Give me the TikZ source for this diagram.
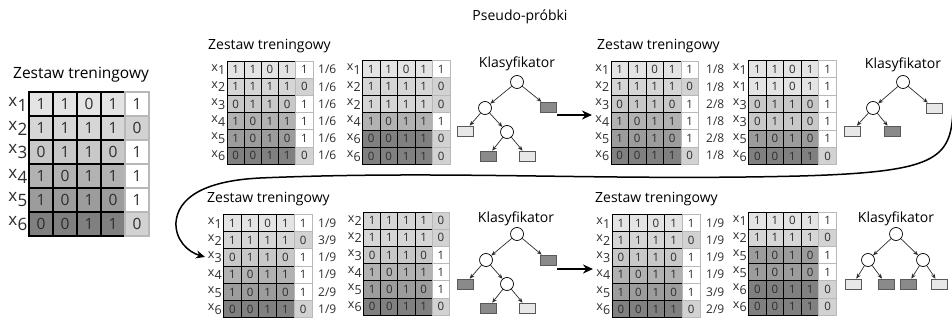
\documentclass[tikz,border=0pt]{standalone}
\usepackage{fontspec}
\setmainfont{Open Sans}
\usetikzlibrary{arrows.meta}

\definecolor{ink}{HTML}{2E2E2E}
\definecolor{shade1}{HTML}{E4E4E4}
\definecolor{shade2}{HTML}{D6D6D6}
\definecolor{shade3}{HTML}{C8C8C8}
\definecolor{shade4}{HTML}{B2B2B2}
\definecolor{shade5}{HTML}{9C9C9C}
\definecolor{shade6}{HTML}{808080}
\definecolor{clszero}{HTML}{D2D2D2}
\definecolor{clsline}{HTML}{B8B8B8}
\definecolor{leafdark}{HTML}{8A8A8A}
\definecolor{leaflight}{HTML}{E8E8E8}

% features and class of each training sample
\expandafter\def\csname feat1\endcsname{1,1,0,1}
\expandafter\def\csname feat2\endcsname{1,1,1,1}
\expandafter\def\csname feat3\endcsname{0,1,1,0}
\expandafter\def\csname feat4\endcsname{1,0,1,1}
\expandafter\def\csname feat5\endcsname{1,0,1,0}
\expandafter\def\csname feat6\endcsname{0,0,1,1}
\expandafter\def\csname cls1\endcsname{1}
\expandafter\def\csname cls2\endcsname{0}
\expandafter\def\csname cls3\endcsname{1}
\expandafter\def\csname cls4\endcsname{1}
\expandafter\def\csname cls5\endcsname{1}
\expandafter\def\csname cls6\endcsname{0}

\newcommand\rowsub[1]{\kern0.3pt\raisebox{-0.55ex}{#1}}

% #1 name, #2 left, #3 top, #4 cell width, #5 cell height, #6 sample ids, #7 size style
\newcommand\datatab[7]{%
  \foreach \id [count=\r] in {#6} {%
    \edef\feats{\csname feat\id\endcsname}%
    \ifnum\csname cls\id\endcsname=1 \def\clsfill{white}\else\def\clsfill{clszero}\fi
    \foreach \v [count=\c] in \feats {%
      \node[fcell, #7, fill=shade\id, minimum width=#4pt, minimum height=#5pt]
        (#1-\r-\c) at ({#2+(\c-0.5)*#4},{#3+(\r-0.5)*#5}) {\v};
    }%
    \node[ccell, #7, fill=\clsfill, minimum width=#4pt, minimum height=#5pt]
      (#1-\r-5) at ({#2+4.5*#4},{#3+(\r-0.5)*#5}) {\csname cls\id\endcsname};
    \node[rowlbl, #7lbl, anchor=east] (#1-x\r) at ({#2-1.5},{#3+(\r-0.5)*#5}) {x\rowsub{\id}};
  }%
}

% #1 name, #2 left, #3 top, #4 row height, #5 weights
\newcommand\weights[5]{%
  \foreach \wt [count=\r] in {#5} {%
    \node[wlbl, anchor=west] (#1-w\r) at (#2,{#3+(\r-0.5)*#4}) {\wt};
  }%
}

\begin{document}
\begin{tikzpicture}[x=1pt,y=-1pt,
  fcell/.style={draw=black, text=ink, inner sep=0pt},
  ccell/.style={draw=clsline, text=ink, inner sep=0pt},
  rowlbl/.style={text=ink, inner sep=0pt, draw=none},
  tabbig/.style={font=\fontsize{15.5}{15.5}\selectfont, line width=1.3pt},
  tabsmall/.style={font=\fontsize{11.5}{11.5}\selectfont, line width=0.9pt},
  tabbiglbl/.style={font=\fontsize{17}{17}\selectfont},
  tabsmalllbl/.style={font=\fontsize{12.5}{12.5}\selectfont},
  wlbl/.style={text=ink, inner sep=0pt, font=\fontsize{12}{12}\selectfont},
  heading/.style={text=black, inner sep=0pt, font=\fontsize{14}{14}\selectfont},
  inner/.style={circle, draw=black, fill=white, line width=0.7pt, minimum size=13pt, inner sep=0pt},
  leafd/.style={rectangle, draw=black!65, fill=leafdark, line width=0.6pt, minimum width=16pt, minimum height=10pt, inner sep=0pt},
  leafl/.style={rectangle, draw=black!65, fill=leaflight, line width=0.6pt, minimum width=16pt, minimum height=10pt, inner sep=0pt},
  branch/.style={-{Stealth[length=5pt,width=4pt]}, line width=0.7pt, draw=ink},
  flow/.style={-{Stealth[length=10pt,width=9pt]}, line width=2.4pt},
  loopback/.style={-{Stealth[length=9pt,width=8pt]}, line width=1.5pt}]

\useasboundingbox (0,0) rectangle (952,320);
\fill[white] (0,0) rectangle (952,320);

\node[heading] (title) at (520,17) {Pseudo-próbki};

% original training set
\node[heading, anchor=base west, font=\fontsize{15.5}{15.5}\selectfont] (h0) at (13,79) {Zestaw treningowy};
\datatab{T0}{29}{92}{24}{24}{1,2,3,4,5,6}{tabbig}

% round 1
\node[heading, anchor=base west] (h1) at (208,50) {Zestaw treningowy};
\datatab{A}{227}{61}{17.2}{17.2}{1,2,3,4,5,6}{tabsmall}
\weights{A}{318}{61}{17.2}{1/6,1/6,1/6,1/6,1/6,1/6}
\datatab{Ap}{362.5}{60.5}{17.5}{17.4}{1,2,2,4,6,6}{tabsmall}

% round 2
\node[heading, anchor=base west] (h2) at (597,50) {Zestaw treningowy};
\datatab{B}{611}{61}{17.5}{17.2}{1,2,3,4,5,6}{tabsmall}
\weights{B}{706}{61}{17.2}{1/8,1/8,2/8,1/8,2/8,1/8}
\datatab{Bp}{748.5}{60.5}{17.6}{17.4}{1,1,3,3,5,6}{tabsmall}

% round 3
\node[heading, anchor=base west] (h3) at (207,203) {Zestaw treningowy};
\datatab{C}{223.5}{214.5}{17.7}{17.2}{1,2,3,4,5,6}{tabsmall}
\weights{C}{318}{214.5}{17.2}{1/9,3/9,1/9,1/9,2/9,1/9}
\datatab{Cp}{363.5}{212}{17.2}{17.2}{2,2,3,4,5,6}{tabsmall}

% round 4
\node[heading, anchor=base west] (h4) at (595,203) {Zestaw treningowy};
\datatab{D}{612}{214.5}{17.6}{17.2}{1,2,3,4,5,6}{tabsmall}
\weights{D}{706}{214.5}{17.2}{1/9,1/9,1/9,1/9,3/9,2/9}
\datatab{Dp}{748.5}{212}{17.6}{17.2}{1,2,5,5,6,6}{tabsmall}

% classifier 1
\node[heading, anchor=base] (k1) at (517,68) {Klasyfikator};
\node[inner] (k1r) at (517,82) {};
\node[inner] (k1a) at (485,108) {};
\node[leafd] (k1ar) at (548,107) {};
\node[leafl] (k1al) at (465,131) {};
\node[inner] (k1b) at (507,132) {};
\node[leafd] (k1bl) at (488,156) {};
\node[leafl] (k1br) at (527,156) {};
\draw[branch] (k1r) -- (k1a);
\draw[branch] (k1r) -- (k1ar);
\draw[branch] (k1a) -- (k1al);
\draw[branch] (k1a) -- (k1b);
\draw[branch] (k1b) -- (k1bl);
\draw[branch] (k1b) -- (k1br);

% classifier 2
\node[heading, anchor=base] (k2) at (903,69) {Klasyfikator};
\node[inner] (k2r) at (903,82) {};
\node[inner] (k2a) at (873,108) {};
\node[leafl] (k2ar) at (934,108) {};
\node[leafl] (k2al) at (852,131) {};
\node[leafd] (k2am) at (892,131) {};
\draw[branch] (k2r) -- (k2a);
\draw[branch] (k2r) -- (k2ar);
\draw[branch] (k2a) -- (k2al);
\draw[branch] (k2a) -- (k2am);

% classifier 3
\node[heading, anchor=base] (k3) at (516,223) {Klasyfikator};
\node[inner] (k3r) at (517,234) {};
\node[inner] (k3a) at (486,260) {};
\node[leafd] (k3ar) at (548,260) {};
\node[leafd] (k3al) at (465,284) {};
\node[inner] (k3b) at (507,284) {};
\node[leafd] (k3bl) at (488,308) {};
\node[leafl] (k3br) at (527,308) {};
\draw[branch] (k3r) -- (k3a);
\draw[branch] (k3r) -- (k3ar);
\draw[branch] (k3a) -- (k3al);
\draw[branch] (k3a) -- (k3b);
\draw[branch] (k3b) -- (k3bl);
\draw[branch] (k3b) -- (k3br);

% classifier 4
\node[heading, anchor=base] (k4) at (896,223) {Klasyfikator};
\node[inner] (k4r) at (896,234) {};
\node[inner] (k4a) at (868,260) {};
\node[inner] (k4c) at (923,260) {};
\node[leafl] (k4l1) at (853,284) {};
\node[leafd] (k4l2) at (886,284) {};
\node[leafd] (k4l3) at (908,284) {};
\node[leafl] (k4l4) at (939,284) {};
\draw[branch] (k4r) -- (k4a);
\draw[branch] (k4r) -- (k4c);
\draw[branch] (k4a) -- (k4l1);
\draw[branch] (k4a) -- (k4l2);
\draw[branch] (k4c) -- (k4l3);
\draw[branch] (k4c) -- (k4l4);

% arrows between rounds
\coordinate (f1a) at (557,115);
\coordinate (f1b) at (592,115);
\draw[flow] (f1a) -- (f1b);
\coordinate (f2a) at (557,269);
\coordinate (f2b) at (593,269);
\draw[flow] (f2a) -- (f2b);

% return from round 2 to round 3
\coordinate (rs) at (953,110);
\coordinate (re) at (205,257);
\draw[loopback] (rs) .. controls (951,160) and (935,172) .. (800,176)
  .. controls (600,181) and (450,170) .. (260,178)
  .. controls (200,181) and (178,200) .. (176,222)
  .. controls (175,240) and (188,252) .. (re);
\end{tikzpicture}
\end{document}
